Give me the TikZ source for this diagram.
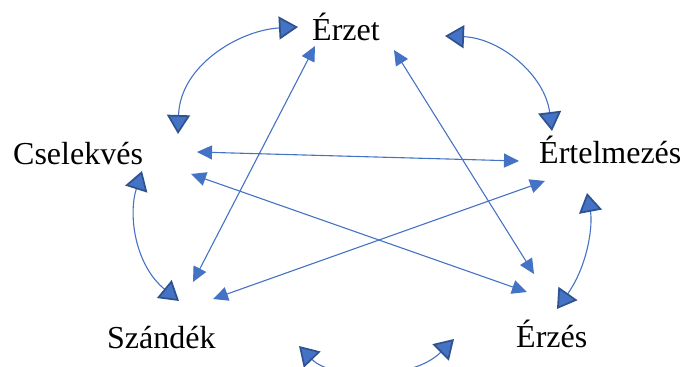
\documentclass[tikz,border=0pt]{standalone}
\usepackage{fontspec}
\setmainfont{Liberation Serif}
\usetikzlibrary{arrows.meta}
\definecolor{linkblue}{HTML}{4472C4}
\definecolor{tipedge}{HTML}{2F528F}

\begin{document}
\begin{tikzpicture}[x=1pt,y=-1pt,
  word/.style={anchor=base west, inner sep=0pt, font=\fontsize{32}{38}\selectfont},
  smalltip/.tip={Triangle[length=15pt,width=14pt]},
  bigtip/.tip={Triangle[length=19pt,width=23pt,fill=linkblue,color=tipedge,line width=1.7pt]},
  link/.style={draw=linkblue, line width=1.1pt, smalltip-smalltip},
  cycarrow/.style={draw=linkblue, line width=1.1pt, bigtip-bigtip}]

\useasboundingbox (0,0) rectangle (681,367);
\clip (0,0) rectangle (681,367);

% the five words
\node[word] (erzet)      at (312,40)  {Érzet};
\node[word] (cselekves)  at (13,164)  {Cselekvés};
\node[word] (ertelmezes) at (539,163) {Értelmezés};
\node[word] (szandek)    at (107,348) {Szándék};
\node[word] (erzes)      at (516,347) {Érzés};

% end points of the straight links
\coordinate (l1a) at (315,46);  \coordinate (l1b) at (193,282);
\coordinate (l2a) at (394,50);  \coordinate (l2b) at (534,274);
\coordinate (l3a) at (197,152); \coordinate (l3b) at (519,161);
\coordinate (l4a) at (191,174); \coordinate (l4b) at (527,292);
\coordinate (l5a) at (545,181); \coordinate (l5b) at (213,299);

% end points of the curved arrows around the ring
\coordinate (ca1) at (298,27);  \coordinate (ca2) at (178,134);
\coordinate (cb1) at (445,36);  \coordinate (cb2) at (552,131);
\coordinate (cc1) at (142,171); \coordinate (cc2) at (179,301);
\coordinate (cd1) at (587,193); \coordinate (cd2) at (557,309);
\coordinate (ce1) at (299,346); \coordinate (ce2) at (454,339);

% straight links
\draw[link] (l1a) -- (l1b);
\draw[link] (l2a) -- (l2b);
\draw[link] (l3a) -- (l3b);
\draw[link] (l4a) -- (l4b);
\draw[link] (l5a) -- (l5b);

% curved arrows
\draw[cycarrow] (ca1) .. controls (240,30) and (180,65) .. (ca2);
\draw[cycarrow] (cb1) .. controls (500,38) and (545,75) .. (cb2);
\draw[cycarrow] (cc1) .. controls (128,215) and (135,265) .. (cc2);
\draw[cycarrow] (cd1) .. controls (593,225) and (588,265) .. (cd2);
\draw[cycarrow] (ce1) .. controls (332,380) and (412,381) .. (ce2);
\end{tikzpicture}
\end{document}
